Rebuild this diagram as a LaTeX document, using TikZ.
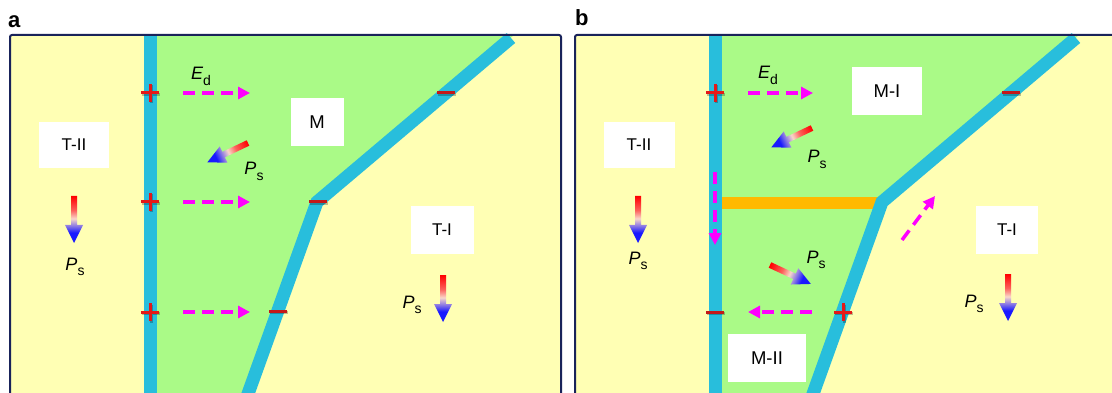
\documentclass[tikz,border=0pt]{standalone}
\usepackage{fontspec}
\setmainfont{Liberation Sans}
\usetikzlibrary{arrows.meta}
\definecolor{yel}{RGB}{255,255,180}
\definecolor{grn}{RGB}{170,250,135}
\definecolor{wallc}{RGB}{40,190,220}
\definecolor{org}{RGB}{255,185,0}
\definecolor{mag}{RGB}{255,0,255}
\definecolor{navy}{RGB}{25,35,90}
\definecolor{plusred}{RGB}{228,25,25}
\definecolor{minred}{RGB}{195,25,25}
\definecolor{pale}{RGB}{250,215,200}
\definecolor{ablue}{RGB}{25,25,255}
\pgfdeclareverticalshading{gradarr}{100bp}{%
  color(0bp)=(ablue); color(25bp)=(ablue); color(36bp)=(ablue);
  color(44bp)=(ablue!45!pale); color(51bp)=(pale); color(60bp)=(red!55!pale);
  color(75bp)=(red); color(100bp)=(red)}
\newcommand{\mysub}[1]{\raisebox{-0.3em}{\fontsize{14}{14}\selectfont #1}}
\newcommand{\Psym}{\textit{P}\mysub{s}}
\newcommand{\Edsym}{\textit{E}\mysub{d}}
\newcommand{\gradarrow}[4]{%
  \begin{scope}[transform canvas={shift={(#1,#2)},rotate=#3}]
    \shade[shading=gradarr]
      (-3,0) -- (3,0) -- (3,#4-18) -- (9,#4-18) -- (0,#4) -- (-9,#4-18) -- (-3,#4-18) -- cycle;
  \end{scope}}
\newcommand{\plussign}[2]{%
  \draw[black, opacity=0.25, line width=3pt, shift={(#1+1,#2+1.5)}] (-9,0) -- (9,0) (0,-9) -- (0,9);
  \draw[plusred, line width=3pt, shift={(#1,#2)}] (-9,0) -- (9,0) (0,-9) -- (0,9);}
\newcommand{\minussign}[2]{%
  \draw[black, opacity=0.25, line width=3pt, shift={(#1+1,#2+1.5)}] (-9,0) -- (9,0);
  \draw[minred, line width=3pt, shift={(#1,#2)}] (-9,0) -- (9,0);}
\begin{document}
\begin{tikzpicture}[x=1pt,y=-1pt,
  lbox/.style={fill=white, inner sep=0pt, font=\fontsize{17}{19}\selectfont},
  mbox/.style={fill=white, inner sep=0pt, font=\fontsize{18.5}{20}\selectfont},
  wallline/.style={wallc, line width=13pt},
  efield/.style={mag, line width=3.5pt, dash pattern=on 12pt off 7pt, -{Triangle[length=12pt,width=12pt]}},
  frameline/.style={navy, line width=2pt, rounded corners=2pt},
  sym/.style={font=\fontsize{18}{20}\selectfont, inner sep=0pt, anchor=base},
  plabel/.style={font=\fontsize{22}{24}\selectfont\bfseries, inner sep=0pt, anchor=base west}]
\useasboundingbox (0,0) rectangle (1112,393);
\clip (0,0) rectangle (1112,393);
\fill[white] (0,0) rectangle (1112,393);

% ===== Panel a =====
\fill[yel] (10,35) rectangle (561,410);
\fill[grn] (150,35) -- (514,35) -- (317,202) -- (246,400) -- (150,400) -- cycle;
\draw[wallline] (150.5,35) -- (150.5,400);
\draw[wallline] (511,38) -- (317,202) -- (244,405);
\draw[frameline] (10,410) -- (10,35) -- (561,35) -- (561,410);
\node[plabel] (la) at (8,28) {a};

\plussign{150}{93}
\plussign{150}{202}
\plussign{150}{312}
\minussign{446}{93}
\minussign{318}{202}
\minussign{278}{311}

\coordinate (ea1s) at (183,93);  \coordinate (ea1e) at (250,93);
\coordinate (ea2s) at (183,202); \coordinate (ea2e) at (250,202);
\coordinate (ea3s) at (183,312); \coordinate (ea3e) at (250,312);
\draw[efield] (ea1s) -- (ea1e);
\draw[efield] (ea2s) -- (ea2e);
\draw[efield] (ea3s) -- (ea3e);
\node[sym] (eda) at (201,80) {\Edsym};

\node[mbox, minimum width=53pt, minimum height=48pt] (Ma) at (317,122) {M};
\node[lbox, minimum width=70pt, minimum height=46pt] (T2a) at (74,145) {T-II};
\node[lbox, minimum width=63pt, minimum height=47pt] (T1a) at (442,230) {T-I};

\gradarrow{248}{143}{-64.6}{45}
\node[sym] (psa1) at (254,175) {\Psym};
\gradarrow{74}{196}{0}{47}
\node[sym] (psa2) at (75,270) {\Psym};
\gradarrow{443}{275}{0}{47}
\node[sym] (psa3) at (412,308) {\Psym};

% ===== Panel b =====
\fill[yel] (575,35) rectangle (1130,410);
\fill[grn] (715,35) -- (1079,35) -- (882,202) -- (811,400) -- (715,400) -- cycle;
\draw[org, line width=12pt] (715,203) -- (880,203);
\draw[wallline] (715.5,35) -- (715.5,400);
\draw[wallline] (1076,38) -- (882,202) -- (809,405);
\draw[frameline] (575,410) -- (575,35) -- (1130,35);
\node[plabel] (lb) at (575,26) {b};

\plussign{715}{93}
\plussign{843}{312}
\minussign{1011}{93}
\minussign{715}{312}

\coordinate (eb1s) at (748,93);  \coordinate (eb1e) at (813,93);
\coordinate (eb2s) at (812,312); \coordinate (eb2e) at (748,312);
\coordinate (eb3s) at (715,172); \coordinate (eb3e) at (715,245);
\coordinate (eb4s) at (902,240); \coordinate (eb4e) at (935,196);
\draw[efield] (eb1s) -- (eb1e);
\draw[efield] (eb2s) -- (eb2e);
\draw[efield] (eb3s) -- (eb3e);
\draw[efield] (eb4s) -- (eb4e);
\node[sym] (edb) at (768,79) {\Edsym};

\node[mbox, minimum width=70pt, minimum height=48pt] (M1b) at (887,91) {M-I};
\node[lbox, minimum width=71pt, minimum height=46pt] (T2b) at (639,145) {T-II};
\node[lbox, minimum width=62pt, minimum height=47pt] (T1b) at (1007,230) {T-I};
\node[mbox, minimum width=78pt, minimum height=48pt] (M2b) at (767,358) {M-II};

\gradarrow{812}{128}{-64.6}{45}
\node[sym] (psb1) at (817,163) {\Psym};
\gradarrow{770}{265}{65.1}{45}
\node[sym] (psb2) at (816,263) {\Psym};
\gradarrow{638}{196}{0}{47}
\node[sym] (psb3) at (638,264) {\Psym};
\gradarrow{1008}{274}{0}{47}
\node[sym] (psb4) at (974,307) {\Psym};
\end{tikzpicture}
\end{document}
